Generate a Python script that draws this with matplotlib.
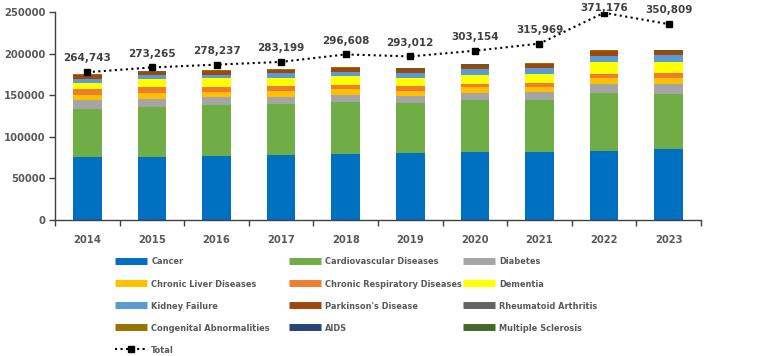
import numpy as np
import matplotlib
matplotlib.use("Agg")
import matplotlib.pyplot as plt
from matplotlib.lines import Line2D
from matplotlib.ticker import FixedLocator
from matplotlib import font_manager

years = ['2014', '2015', '2016', '2017', '2018', '2019', '2020', '2021', '2022', '2023']

cancer = [75850, 75850, 77400, 78260, 79300, 80670, 82230, 82230, 83080, 85120]
cardio = [58250, 59850, 61060, 61400, 62400, 60200, 61650, 62250, 69230, 66590]
diabetes = [10350, 10350, 9630, 8790, 8790, 8750, 8430, 9270, 11190, 11670]
liver = [6000, 7220, 6380, 6870, 7220, 5930, 7590, 6740, 7700, 7580]
respiratory = [6900, 6500, 6020, 6020, 5180, 6150, 4200, 4690, 4580, 5640]
dementia = [8050, 9630, 10480, 9990, 9870, 9630, 10840, 10600, 14450, 13650]
kidney = [4800, 4820, 3970, 5300, 5780, 5900, 6860, 6980, 7580, 8090]
parkinson = [4350, 4330, 4460, 3970, 4460, 4330, 4450, 5060, 5670, 4780]
rheumatoid = [250, 260, 260, 270, 270, 270, 280, 280, 300, 300]
congenital = [350, 340, 340, 330, 330, 320, 320, 320, 330, 330]
aids = [150, 150, 140, 140, 140, 130, 130, 130, 130, 130]
sclerosis = [200, 200, 210, 210, 220, 220, 230, 230, 240, 240]

totals = [264743, 273265, 278237, 283199, 296608, 293012, 303154, 315969, 371176, 350809]

series = [
    ('Cancer', cancer, '#0070C0'),
    ('Cardiovascular Diseases', cardio, '#70AD47'),
    ('Diabetes', diabetes, '#A5A5A5'),
    ('Chronic Liver Diseases', liver, '#FFC000'),
    ('Chronic Respiratory Diseases', respiratory, '#ED7D31'),
    ('Dementia', dementia, '#FFFF00'),
    ('Kidney Failure', kidney, '#5B9BD5'),
    ("Parkinson's Disease", parkinson, '#9E480E'),
    ('Rheumatoid Arthritis', rheumatoid, '#636363'),
    ('Congenital Abnormalities', congenital, '#997300'),
    ('AIDS', aids, '#264478'),
    ('Multiple Sclerosis', sclerosis, '#43682B'),
]

tick_color = '#595959'

# condensed face for the legend if one is installed
condensed = any(f.name == 'DejaVu Sans' and f.stretch == 'condensed'
                for f in font_manager.fontManager.ttflist)
if condensed:
    leg_font = {'family': 'DejaVu Sans', 'stretch': 'condensed', 'size': 6.6, 'weight': 'bold'}
    leg_space = 1.42
else:
    leg_font = {'family': 'DejaVu Sans', 'size': 5.9, 'weight': 'bold'}
    leg_space = 1.7

fig = plt.figure(figsize=(7.67, 3.56), dpi=100)
ax = fig.add_axes([55 / 767, 136 / 356, 646 / 767, 207.7 / 356])

x = np.arange(len(years))
bottom = np.zeros(len(years))
handles = []
for name, vals, col in series:
    ax.bar(x, vals, width=0.44, bottom=bottom, color=col, edgecolor='none')
    bottom += np.array(vals)
    handles.append(Line2D([], [], color=col, lw=5, solid_capstyle='butt', label=name))

ax.set_xlim(-0.5, len(years) - 0.5)
ax.set_ylim(0, 250000)
ax.set_yticks(np.arange(0, 250001, 50000))
ax.set_xticks(x)
ax.set_xticklabels(years)
ax.xaxis.set_minor_locator(FixedLocator(np.arange(-0.5, len(years), 1.0)))
ax.tick_params(axis='x', which='major', length=0, pad=11)
ax.tick_params(axis='x', which='minor', length=4, width=1, color='#404040', direction='out')
ax.tick_params(axis='y', length=4, width=1, color='#404040', pad=3)
for lab in ax.get_xticklabels() + ax.get_yticklabels():
    lab.set_fontsize(7.2)
    lab.set_fontweight('bold')
    lab.set_color(tick_color)
for s in ['top', 'right']:
    ax.spines[s].set_visible(False)
for s in ['left', 'bottom']:
    ax.spines[s].set_color('#404040')
    ax.spines[s].set_linewidth(1)

# total on hidden secondary axis
ax2 = ax.twinx()
ax2.set_ylim(0, 372000)
ax2.axis('off')
ax2.plot(x, totals, color='black', ls=':', lw=1.5, marker='s', ms=4.5)
top = max(totals)
for xi, v in zip(x, totals):
    off = 3.5 if v == top else 10
    ax2.annotate(f'{v:,}', (xi, v), xytext=(0, off), textcoords='offset points',
                 ha='center', va='center', fontsize=7.5, fontweight='bold', color='#404040')

total_handle = Line2D([], [], color='black', ls=':', lw=1.5, marker='s', ms=4.5, label='Total')

# legend, three columns laid out row by row
cols = [
    [handles[0], handles[3], handles[6], handles[9], total_handle],
    [handles[1], handles[4], handles[7], handles[10]],
    [handles[2], handles[5], handles[8], handles[11]],
]
col_x = [115, 289, 463]
hl = 32 / (leg_font['size'] * 100 / 72)
for hs, cx in zip(cols, col_x):
    fig.legend(handles=hs, labels=[h.get_label() for h in hs], loc='upper left',
               bbox_to_anchor=(cx / 767, 1 - 257.5 / 356), frameon=False,
               borderpad=0, borderaxespad=0, handlelength=hl, handletextpad=0.45,
               labelspacing=leg_space, prop=leg_font, labelcolor=tick_color)

fig.savefig('out.png', dpi=100)
